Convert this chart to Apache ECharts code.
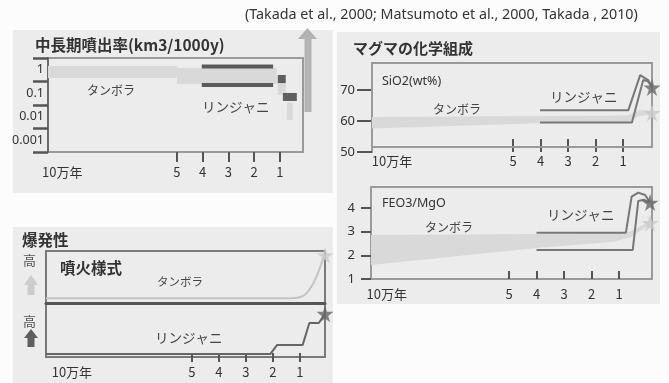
<!DOCTYPE html>
<html>
<head>
<meta charset="utf-8">
<script src="https://cdn.jsdelivr.net/npm/echarts@6/dist/echarts.min.js"></script>
<style>
  html, body { margin: 0; padding: 0; background: #fcfcfc; }
  #chart { width: 669px; height: 383px; }
</style>
</head>
<body>
<div id="chart"></div>
<script>
// ---- time axis (unit: 万年 before present) ----
const timeTicks = [5, 4, 3, 2, 1];
const timeStart = 10;

// ---- 中長期噴出率 (km3/1000y): [from, to, rate low, rate high] ----
const rateLabels = [1, 0.1, 0.01, 0.001];
const tamboraRateBars = [
  [10, 5, 0.45, 1.45],
  [5, 1.12, 0.25, 1.2],
  [1.08, 0.77, 0.084, 0.27],
  [0.73, 0.5, 0.0073, 0.0385]
];
const rinjaniRateRange = [[4.03, 1.26, 0.224, 1.37]];
const rinjaniRateBars = [
  [1.08, 0.77, 0.27, 0.6],
  [0.88, 0.34, 0.047, 0.103]
];

// ---- SiO2 (wt%) ----
const sio2Ticks = [50, 60, 70];
const sio2TamboraX = [10.13, 4, 0.85, 0.4, -0.05];
const sio2TamboraLow = [57.6, 59.3, 59.6, 61.6, 62.0];
const sio2TamboraHigh = [61.3, 61.6, 61.8, 63.6, 63.3];
const sio2RinjaniUpper = [[4.02, 63.5], [0.81, 63.5], [0.38, 74.8], [0.09, 73.2], [-0.05, 71]];
const sio2RinjaniLower = [[4.02, 59.5], [0.68, 59.5], [0.27, 73.2], [0.1, 72.8], [-0.05, 71]];
const sio2StarRinjani = [-0.05, 70.8];
const sio2StarTambora = [-0.05, 62.6];

// ---- FeO3/MgO ----
const feoTicks = [1, 2, 3, 4];
const feoTamboraX = [10.02, 4, 1.2, 0.6, -0.13];
const feoTamboraLow = [1.59, 2.31, 2.58, 2.75, 3.3];
const feoTamboraHigh = [2.86, 2.9, 2.92, 3.0, 3.45];
const feoRinjaniUpper = [[4, 2.96], [0.75, 2.96], [0.54, 4.48], [0.3, 4.65], [0.05, 4.55], [-0.13, 4.23]];
const feoRinjaniLower = [[4, 2.23], [0.5, 2.23], [0.3, 4.3], [0.1, 4.35], [-0.13, 4.23]];
const feoStarRinjani = [-0.13, 4.23];
const feoStarTambora = [-0.13, 3.37];

// ---- 噴火様式 (relative explosivity, 0-10) ----
const styleTambora = [[10.41, 0.9], [1.3, 0.9], [0.9, 1.3], [0.7, 2.2], [0.45, 4.3], [0.22, 7.3], [0.07, 9.2]];
const styleRinjani = [[10.41, 0.55], [2.1, 0.55], [1.85, 2.2], [0.9, 2.2], [0.65, 6.3], [0.3, 6.3], [0.07, 8.0]];
const styleStarTambora = [0.07, 9.2];
const styleStarRinjani = [0.07, 8.0];

// ---- styling ----
const LATIN = '"Noto Sans", "Noto Sans CJK JP", sans-serif';
const CJK = '"Noto Sans CJK JP", sans-serif';
const TXT = '#333';
const LIGHT = '#d9d9d9';
const DARK = '#666';
const STAR = 'path://M50,0 L61,35 L98,35 L68,57 L79,91 L50,70 L21,91 L32,57 L2,35 L39,35 Z';
const startLabelAt = 9.45;

const chart = echarts.init(document.getElementById('chart'));

function timeLabel(at, margin) {
  return {
    customValues: [at].concat(timeTicks),
    formatter: v => (v > 9 ? timeStart + '万年' : String(v)),
    color: TXT, fontSize: 13, fontFamily: CJK, margin
  };
}

function timeAxis(gridIndex, min, max, extra) {
  return Object.assign({
    type: 'value', gridIndex, min, max, inverse: true,
    splitLine: { show: false },
    axisLine: { show: false, onZero: false },
    axisTick: { show: true, customValues: timeTicks, length: 10, lineStyle: { color: '#555', width: 2 } },
    axisLabel: timeLabel(startLabelAt, 12)
  }, extra || {});
}

function rectSeries(xi, yi, rows, color) {
  return {
    type: 'custom', xAxisIndex: xi, yAxisIndex: yi, clip: false, silent: true,
    data: rows.map(r => [r[0], r[1], Math.log10(r[2]), Math.log10(r[3])]),
    renderItem: (params, api) => {
      const a = api.coord([api.value(0), api.value(3)]);
      const b = api.coord([api.value(1), api.value(2)]);
      return {
        type: 'rect',
        shape: { x: Math.min(a[0], b[0]), y: Math.min(a[1], b[1]), width: Math.abs(b[0] - a[0]), height: Math.abs(b[1] - a[1]) },
        style: { fill: color }
      };
    }
  };
}

function rangeEdgeSeries(xi, yi, rows, color) {
  return {
    type: 'custom', xAxisIndex: xi, yAxisIndex: yi, clip: false, silent: true,
    data: rows.map(r => [r[0], r[1], Math.log10(r[2]), Math.log10(r[3])]),
    renderItem: (params, api) => {
      const a = api.coord([api.value(0), api.value(3)]);
      const b = api.coord([api.value(1), api.value(2)]);
      const x = Math.min(a[0], b[0]), w = Math.abs(b[0] - a[0]);
      return {
        type: 'group',
        children: [
          { type: 'rect', shape: { x, y: a[1] - 2, width: w, height: 4 }, style: { fill: color } },
          { type: 'rect', shape: { x, y: b[1] - 2, width: w, height: 4 }, style: { fill: color } }
        ]
      };
    }
  };
}

function bandSeries(xi, yi, xs, lo, hi, color) {
  return {
    type: 'custom', xAxisIndex: xi, yAxisIndex: yi, clip: false, silent: true,
    data: xs.map((x, i) => [x, lo[i], hi[i]]),
    renderItem: (params, api) => {
      if (params.dataIndex !== 0) return null;
      const top = xs.map((x, i) => api.coord([x, hi[i]]));
      const bottom = xs.map((x, i) => api.coord([x, lo[i]])).reverse();
      return { type: 'polygon', shape: { points: top.concat(bottom) }, style: { fill: color } };
    }
  };
}

function lineSeries(xi, yi, data, color, extra) {
  return Object.assign({
    type: 'line', xAxisIndex: xi, yAxisIndex: yi, data, clip: false, silent: true,
    symbol: 'none', lineStyle: { color, width: 2 }, z: 3
  }, extra || {});
}

function starSeries(xi, yi, point, color) {
  return {
    type: 'scatter', xAxisIndex: xi, yAxisIndex: yi, data: [point], clip: false, silent: true,
    symbol: STAR, symbolSize: 17, itemStyle: { color }, z: 5
  };
}

function text(x, y, t, size, weight, color) {
  return {
    type: 'text', z: 50,
    style: { x, y, text: t, font: (weight || 'normal') + ' ' + size + 'px ' + CJK, fill: color || TXT, verticalAlign: 'middle' }
  };
}

const option = {
  animation: false,
  backgroundColor: '#fcfcfc',
  grid: [
    { left: 48, top: 58, width: 255, height: 94, show: true, borderColor: '#9a9a9a', borderWidth: 2, backgroundColor: 'transparent' },
    { left: 372, top: 63, width: 280, height: 89 },
    { left: 371, top: 187, width: 281, height: 92, show: true, borderColor: '#9a9a9a', borderWidth: 2, backgroundColor: 'transparent' },
    { left: 46, top: 251, width: 279, height: 52, show: true, borderColor: '#7a7a7a', borderWidth: 2, backgroundColor: 'transparent' },
    { left: 46, top: 303, width: 279, height: 54, show: true, borderColor: '#7a7a7a', borderWidth: 2, backgroundColor: 'transparent' }
  ],
  xAxis: [
    timeAxis(0, 0.1, 10, { axisLabel: timeLabel(startLabelAt, 14) }),
    timeAxis(1, -0.05, 10.13, {
      axisTick: { show: true, inside: true, customValues: timeTicks, length: 13, lineStyle: { color: '#555', width: 2 } },
      axisLabel: timeLabel(9.4, 3)
    }),
    timeAxis(2, -0.2, 10.02, {
      axisTick: { show: true, inside: true, customValues: timeTicks, length: 8, lineStyle: { color: '#555', width: 2 } },
      axisLabel: timeLabel(startLabelAt, 9)
    }),
    { type: 'value', gridIndex: 3, min: 0.07, max: 10.41, inverse: true, splitLine: { show: false },
      axisLine: { show: true, onZero: false, lineStyle: { color: '#555', width: 3 } }, axisTick: { show: false }, axisLabel: { show: false } },
    timeAxis(4, 0.07, 10.41, {
      offset: -4,
      axisTick: { show: true, customValues: timeTicks, length: 9, lineStyle: { color: '#555', width: 2 } },
      axisLabel: timeLabel(startLabelAt, 13)
    })
  ],
  yAxis: [
    { type: 'value', gridIndex: 0, min: -3.5, max: 0.5, splitLine: { show: false },
      axisLine: { show: true, onZero: false, lineStyle: { color: '#6a6a6a', width: 2 } },
      axisTick: { show: true, customValues: [-3.5, -2.5, -1.5, -0.5, 0.5], length: 15, lineStyle: { color: '#555', width: 2.5 } },
      axisLabel: { customValues: rateLabels.map(Math.log10), formatter: v => String(+Math.pow(10, v).toPrecision(1)),
        color: TXT, fontSize: 12.5, fontFamily: LATIN, margin: 4 } },
    { type: 'value', gridIndex: 1, min: 50, max: 78.7, splitLine: { show: false },
      axisLine: { show: true, onZero: false, lineStyle: { color: '#9a9a9a', width: 2 } },
      axisTick: { show: true, customValues: sio2Ticks, length: 15, lineStyle: { color: '#555', width: 2 } },
      axisLabel: { customValues: sio2Ticks, color: TXT, fontSize: 13, fontFamily: LATIN, margin: 17 } },
    { type: 'value', gridIndex: 2, min: 1, max: 4.89, splitLine: { show: false },
      axisLine: { show: false, onZero: false },
      axisTick: { show: true, customValues: feoTicks, length: 10, lineStyle: { color: '#555', width: 2 } },
      axisLabel: { customValues: feoTicks, color: TXT, fontSize: 13, fontFamily: LATIN, margin: 16 } },
    { type: 'value', gridIndex: 3, min: 0, max: 10, show: false, axisLine: { onZero: false } },
    { type: 'value', gridIndex: 4, min: 0, max: 10, show: false, axisLine: { onZero: false } }
  ],
  series: [
    // 中長期噴出率
    rectSeries(0, 0, tamboraRateBars, LIGHT),
    rangeEdgeSeries(0, 0, rinjaniRateRange, '#5a5a5a'),
    rectSeries(0, 0, rinjaniRateBars, '#5f5f5f'),
    // SiO2
    bandSeries(1, 1, sio2TamboraX, sio2TamboraLow, sio2TamboraHigh, LIGHT),
    lineSeries(1, 1, sio2RinjaniUpper, '#777'),
    lineSeries(1, 1, sio2RinjaniLower, '#777'),
    starSeries(1, 1, sio2StarTambora, '#cacaca'),
    starSeries(1, 1, sio2StarRinjani, DARK),
    // FeO3/MgO
    bandSeries(2, 2, feoTamboraX, feoTamboraLow, feoTamboraHigh, LIGHT),
    lineSeries(2, 2, feoRinjaniUpper, '#777'),
    lineSeries(2, 2, feoRinjaniLower, '#777'),
    starSeries(2, 2, feoStarTambora, '#cacaca'),
    starSeries(2, 2, feoStarRinjani, DARK),
    // 噴火様式
    lineSeries(3, 3, styleTambora, '#c4c4c4', { smooth: 0.35 }),
    starSeries(3, 3, styleStarTambora, '#cacaca'),
    lineSeries(4, 4, styleRinjani, DARK),
    starSeries(4, 4, styleStarRinjani, DARK)
  ],
  graphic: [
    // panels
    { type: 'rect', z: -10, shape: { x: 13, y: 30, width: 320, height: 163 }, style: { fill: '#ececec' } },
    { type: 'rect', z: -10, shape: { x: 337, y: 32, width: 323, height: 272 }, style: { fill: '#ececec' } },
    { type: 'rect', z: -10, shape: { x: 13, y: 227, width: 320, height: 156 }, style: { fill: '#ececec' } },
    // SiO2 frame
    { type: 'rect', z: 1, shape: { x: 372, y: 63, width: 280, height: 84 }, style: { fill: 'none', stroke: '#9a9a9a', lineWidth: 2 } },
    // large-eruption arrow
    { type: 'polygon', z: 1, shape: { points: [[298, 39], [307.5, 28], [317, 39], [311.5, 39], [311.5, 112], [304.5, 112], [304.5, 39]] }, style: { fill: '#b3b3b3' } },
    // explosivity arrows
    { type: 'polygon', z: 1, shape: { points: [[24, 285], [31, 275], [38, 285], [34.5, 285], [34.5, 295], [27.5, 295], [27.5, 285]] }, style: { fill: '#cccccc' } },
    { type: 'polygon', z: 1, shape: { points: [[24, 338], [31, 329], [38, 338], [34.5, 338], [34.5, 347], [27.5, 347], [27.5, 338]] }, style: { fill: '#5e5e5e' } },
    // texts
    { type: 'text', z: 50, style: { x: 245, y: 15, text: '(Takada et al., 2000; Matsumoto et al., 2000, Takada , 2010)', font: '14.3px ' + LATIN, fill: TXT, verticalAlign: 'middle' } },
    text(35, 45, '中長期噴出率(km3/1000y)', 15.5, 'bold'),
    text(87, 90, 'タンボラ', 12, 'normal', '#444'),
    text(202, 107, 'リンジャニ', 13.5, 'normal', '#444'),
    text(353, 48, 'マグマの化学組成', 15, 'bold'),
    { type: 'text', z: 50, style: { x: 382, y: 81, text: 'SiO2(wt%)', font: '12.5px ' + LATIN, fill: TXT, verticalAlign: 'middle' } },
    text(433, 109, 'タンボラ', 12, 'normal', '#444'),
    text(550, 97, 'リンジャニ', 13.5, 'normal', '#444'),
    { type: 'text', z: 50, style: { x: 382, y: 203, text: 'FEO3/MgO', font: '12.5px ' + LATIN, fill: TXT, verticalAlign: 'middle' } },
    text(425, 227, 'タンボラ', 12, 'normal', '#444'),
    text(547, 215, 'リンジャニ', 13.5, 'normal', '#444'),
    text(22, 240, '爆発性', 15.5, 'bold'),
    text(23, 260, '高', 13, 'normal', '#555'),
    text(23, 321, '高', 13, 'normal', '#555'),
    text(60, 268, '噴火様式', 15.5, 'bold'),
    text(157, 282, 'タンボラ', 11.5, 'normal', '#444'),
    text(155, 338, 'リンジャニ', 13.5, 'normal', '#444')
  ]
};

chart.setOption(option);
</script>
</body>
</html>
